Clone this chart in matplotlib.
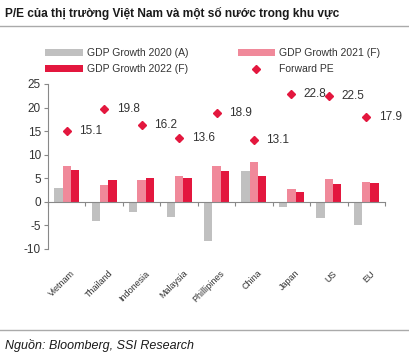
import matplotlib
matplotlib.use("Agg")
import matplotlib.pyplot as plt
import numpy as np
from matplotlib import font_manager as fm

names = {f.name for f in fm.fontManager.ttflist}
narrow = 'Liberation Sans Narrow' if 'Liberation Sans Narrow' in names else 'Liberation Sans'
plt.rcParams['font.family'] = [narrow, 'DejaVu Sans']

categories = ['Vietnam', 'Thailand', 'Indonesia', 'Malaysia', 'Phillipines',
              'China', 'Japan', 'US', 'EU']
gdp2020 = [2.9, -4.1, -2.1, -3.3, -8.3, 6.5, -1.1, -3.5, -5.0]
gdp2021 = [7.6, 3.5, 4.7, 5.5, 7.5, 8.4, 2.7, 4.9, 4.2]
gdp2022 = [6.7, 4.7, 5.0, 5.0, 6.6, 5.5, 2.1, 3.7, 4.0]
forward_pe = [15.1, 19.8, 16.2, 13.6, 18.9, 13.1, 22.8, 22.5, 17.9]
yticks = [-10, -5, 0, 5, 10, 15, 20, 25]

c_gray = '#C0C0C0'
c_pink = '#F0899A'
c_red = '#E3173E'
txt = '#333333'

fig = plt.figure(figsize=(4.09, 3.59), dpi=100)
ax = fig.add_axes([48/409, 1-249/359, (385-48)/409, (249-84)/359])

x = np.arange(len(categories))
w = 0.222
h20 = ax.bar(x - w, gdp2020, w, color=c_gray, label='GDP Growth 2020 (A)')
h21 = ax.bar(x, gdp2021, w, color=c_pink, label='GDP Growth 2021 (F)')
h22 = ax.bar(x + w, gdp2022, w, color=c_red, label='GDP Growth 2022 (F)')
hpe, = ax.plot(x, forward_pe, linestyle='none', marker='D', markersize=3.8,
               color=c_red, label='Forward PE')
for xi, v in zip(x, forward_pe):
    ax.annotate(f'{v}', (xi, v), xytext=(9, 0), textcoords='offset points',
                va='center', ha='left', fontsize=8.5, color=txt)

ax.set_xlim(-0.5, len(categories) - 0.5)
ax.set_ylim(-10, 25)
ax.set_yticks(yticks)
ax.set_yticklabels([str(t) for t in yticks], fontsize=8.5, color=txt)

for s in ['top', 'right']:
    ax.spines[s].set_visible(False)
ax.spines['bottom'].set_position(('data', 0))
ax.spines['bottom'].set_color('#888888')
ax.spines['left'].set_color('#888888')
ax.tick_params(axis='y', length=3, color='#888888', pad=2)

ax.set_xticks(np.arange(len(categories) + 1) - 0.5)
ax.set_xticklabels([])
ax.tick_params(axis='x', length=3, direction='out', color='#888888')
for xi, lab in zip(x, categories):
    ax.text(xi + 0.1, -0.12, lab, transform=ax.get_xaxis_transform(),
            rotation=45, ha='right', va='top', rotation_mode='anchor',
            fontsize=6.5, color=txt)

hs = [h20, h22, h21, hpe]
leg = fig.legend(hs, [h.get_label() for h in hs],
                 ncol=2, loc='upper left', bbox_to_anchor=(36/409, 1-39/359),
                 frameon=False, fontsize=7.5, handlelength=3.6, handleheight=0.6,
                 columnspacing=4.7, labelspacing=0.55, handletextpad=0.4)
for t in leg.get_texts():
    t.set_color(txt)

fig.text(5/409, 1-13/359, 'P/E của thị trường Việt Nam và một số nước trong khu vực',
         fontsize=8.6, fontweight='bold', va='center', ha='left', color='#1a1a1a')
fig.add_artist(plt.Line2D([0, 1], [1-26/359, 1-26/359], color='#AAAAAA', lw=1))
fig.add_artist(plt.Line2D([0, 1], [1-330/359, 1-330/359], color='#AAAAAA', lw=1))
fig.text(5/409, 1-346/359, 'Nguồn: Bloomberg, SSI Research', fontsize=9,
         style='italic', va='center', ha='left', color='#1a1a1a')

fig.savefig('out.png', dpi=100)
